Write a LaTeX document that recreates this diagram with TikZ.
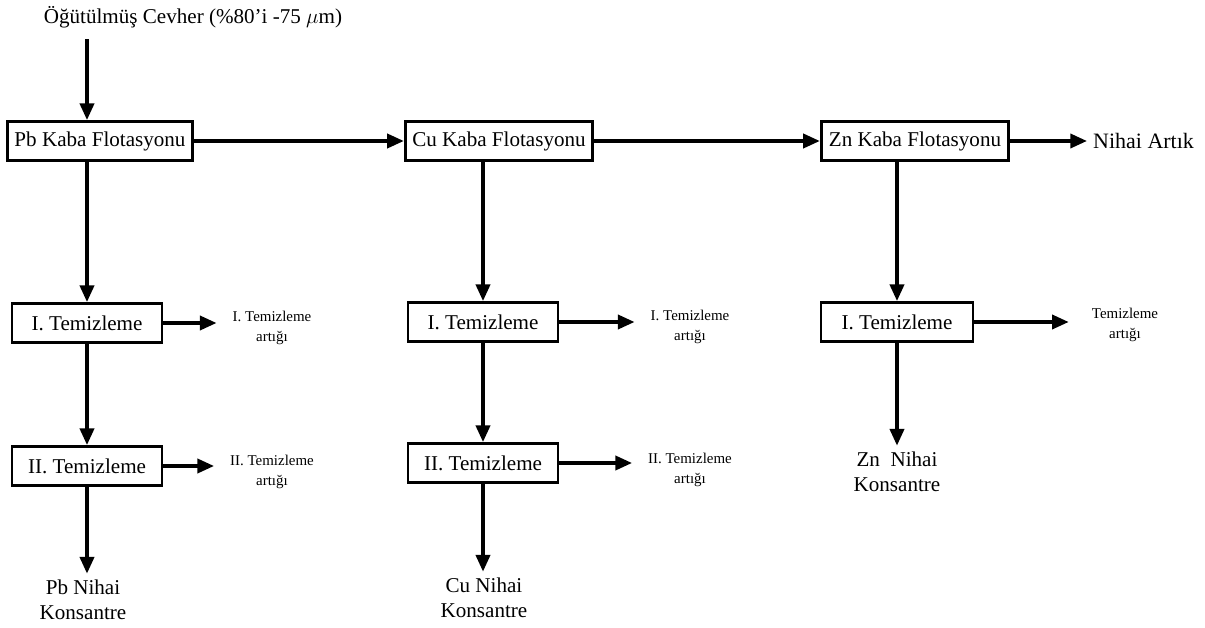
\documentclass[tikz,border=0pt]{standalone}
\usepackage{fontspec}
\setmainfont{Liberation Serif}
\usetikzlibrary{arrows.meta}
\tikzset{
	unit/.style={draw, line width=1.6pt, minimum height=0.78cm, font=\fontsize{12}{14}\selectfont},
	kaba/.style={unit, minimum width=3.75cm},
	cleaner/.style={unit, minimum width=3cm},
	flow/.style={line width=2pt, -{Triangle[length=9.5pt,width=8pt]}},
	side/.style={font=\fontsize{8.5}{11}\selectfont, align=center, inner xsep=9pt},
	prod/.style={font=\fontsize{12}{14.5}\selectfont, align=center}
}
\begin{document}
\begin{tikzpicture}[x=0.02cm, y=-0.02cm]
		\useasboundingbox (0,0) rectangle (1205,628);
		\node (feed) at (193,17) {\fontsize{12}{14}\selectfont Öğütülmüş Cevher (\%80'i -75 $\mu$m)};
		\node (pb) [kaba, minimum width=3.7cm] at (100,141) {Pb Kaba Flotasyonu};
		\node (cu) [kaba] at (499,141) {Cu Kaba Flotasyonu};
		\node (zn) [kaba] at (915,141) {Zn Kaba Flotasyonu};
		\node (artik) [anchor=west, font=\fontsize{12.5}{14}\selectfont] at (1087,141) {Nihai Artık};
		\node (pb1) [cleaner] at (87,323) {I. Temizleme};
		\node (pb2) [cleaner] at (87,466) {II. Temizleme};
		\node (cu1) [cleaner] at (483,322) {I. Temizleme};
		\node (cu2) [cleaner] at (483,463) {II. Temizleme};
		\node (zn1) [cleaner, minimum width=3.04cm] at (897,322) {I. Temizleme};
		\node (pb1r) [side] at (272,328) {I. Temizleme\\artığı};
		\node (pb2r) [side] at (272,472) {II. Temizleme\\artığı};
		\node (cu1r) [side] at (690,327) {I. Temizleme\\artığı};
		\node (cu2r) [side] at (690,470) {II. Temizleme\\artığı};
		\node (zn1r) [side, inner xsep=13pt] at (1125,325) {Temizleme\\artığı};
		\node (pbc) [prod] at (83,600) {Pb Nihai\\Konsantre};
		\node (cuc) [prod] at (484,598) {Cu Nihai\\Konsantre};
		\node (znc) [prod] at (897,472) {Zn~ Nihai\\Konsantre};
		\draw [flow, shorten <=3pt] (feed.south -| pb1) -- (pb.north -| pb1);
		\draw [flow] (pb) -- (cu);
		\draw [flow] (cu) -- (zn);
		\draw [flow] (zn) -- (artik);
		\draw [flow] (pb.south -| pb1) -- (pb1);
		\draw [flow] (pb1) -- (pb2);
		\draw [flow] (pb2) -- (pb2 |- pbc.north);
		\draw [flow] (cu.south -| cu1) -- (cu1);
		\draw [flow] (cu1) -- (cu2);
		\draw [flow] (cu2) -- (cu2 |- cuc.north);
		\draw [flow] (zn.south -| zn1) -- (zn1);
		\draw [flow] (zn1) -- (zn1 |- znc.north);
		\draw [flow] (pb1) -- (pb1 -| pb1r.west);
		\draw [flow] (pb2) -- (pb2 -| pb2r.west);
		\draw [flow] (cu1) -- (cu1 -| cu1r.west);
		\draw [flow] (cu2) -- (cu2 -| cu2r.west);
		\draw [flow] (zn1) -- (zn1 -| zn1r.west);
		\end{tikzpicture}
\end{document}
